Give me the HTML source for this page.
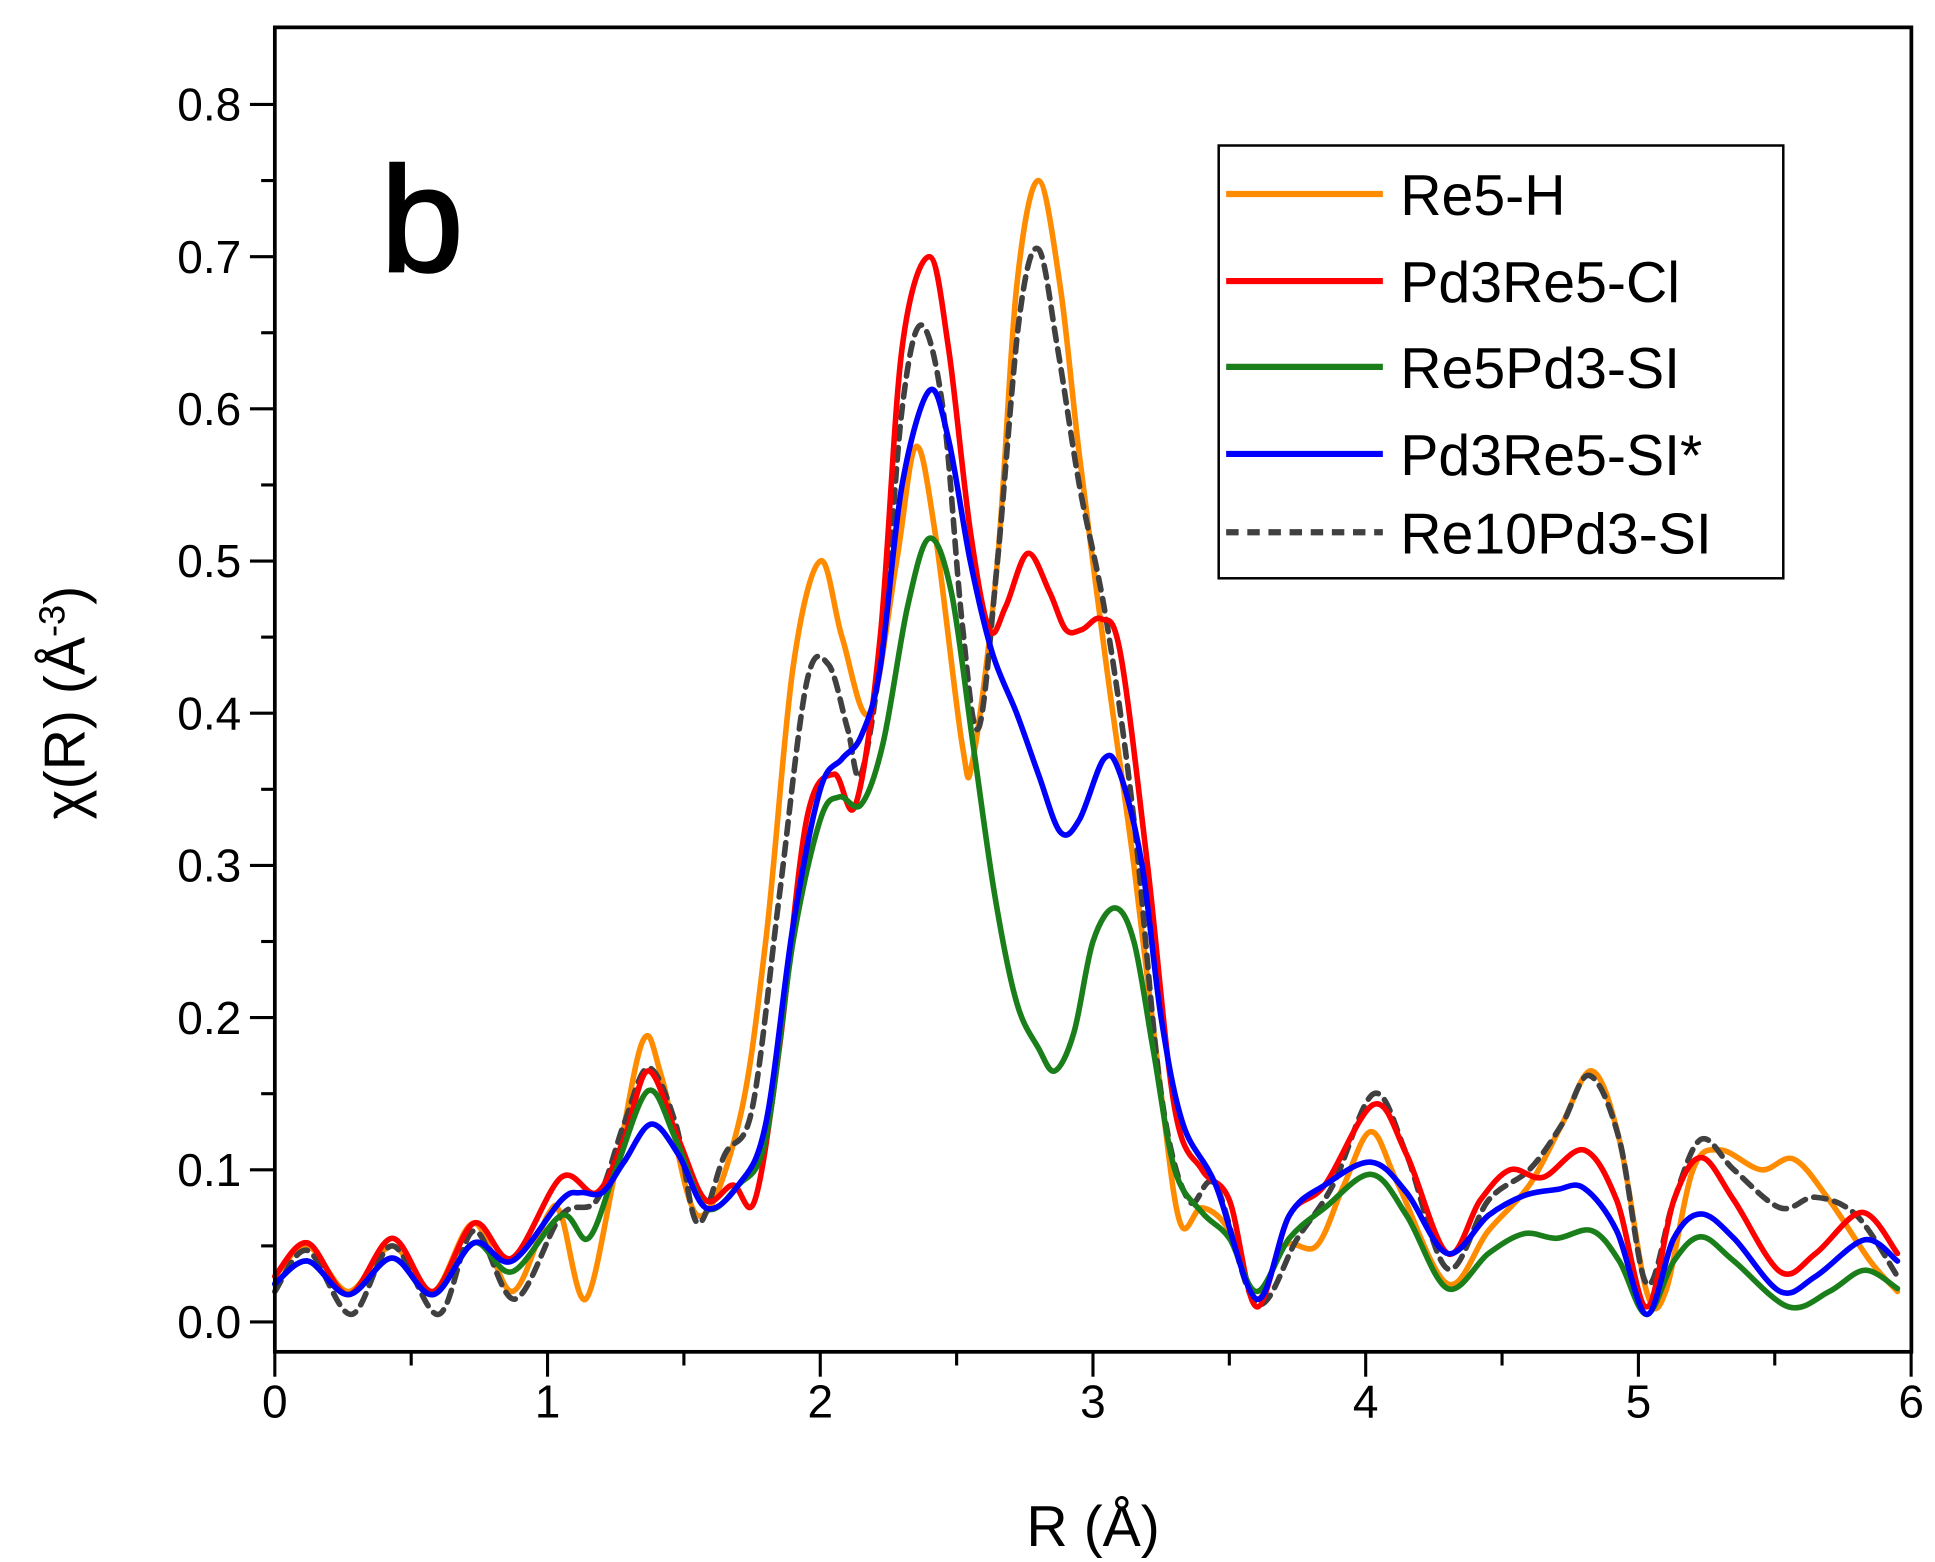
<!DOCTYPE html>
<html><head><meta charset="utf-8"><style>
html,body{margin:0;padding:0;background:#fff}
svg{display:block}
text{font-family:"Liberation Sans",Arial,sans-serif;fill:#000}
</style></head><body>
<svg id="s" width="1935" height="1562" viewBox="0 0 1556 1256" preserveAspectRatio="none" xmlns="http://www.w3.org/2000/svg">
<rect x="0" y="0" width="1556" height="1256" fill="#fff"/>
<g id="ticks" stroke="#000" stroke-width="2.5"></g>
<g id="series" fill="none" stroke-linejoin="round" stroke-linecap="round"></g>
<rect x="221" y="22" width="1316" height="1065" fill="none" stroke="#000" stroke-width="3"/>
<g id="labels" font-size="37"></g>
<text x="879" y="1243" font-size="46" text-anchor="middle">R (Å)</text>
<text transform="translate(68,565) rotate(-90)" font-size="46" text-anchor="middle">χ(R) (Å<tspan dy="-16" font-size="29">-3</tspan><tspan dy="16">)</tspan></text>
<text x="306" y="218" font-size="120" stroke="#000" stroke-width="2">b</text>
<rect x="980" y="117" width="454" height="348" fill="#fff" stroke="#000" stroke-width="2"/>
<g font-size="46">
<line x1="986" y1="156" x2="1112" y2="156" stroke="#ff8c00" stroke-width="5"/><text x="1126" y="173">Re5-H</text>
<line x1="986" y1="226" x2="1112" y2="226" stroke="#ff0000" stroke-width="5"/><text x="1126" y="243">Pd3Re5-Cl</text>
<line x1="986" y1="295" x2="1112" y2="295" stroke="#1a7f1a" stroke-width="5"/><text x="1126" y="312">Re5Pd3-SI</text>
<line x1="986" y1="365" x2="1112" y2="365" stroke="#0000ff" stroke-width="5"/><text x="1126" y="382">Pd3Re5-SI*</text>
<line x1="986" y1="428" x2="1112" y2="428" stroke="#404040" stroke-width="5" stroke-dasharray="10,7"/><text x="1126" y="445">Re10Pd3-SI</text>
</g>
</svg>
<script>
const X=r=>221+r*219.3, Y=v=>1063-v*1223.75;
const NS="http://www.w3.org/2000/svg";
const tk=document.getElementById('ticks'), lb=document.getElementById('labels');
function el(p,t,a,txt){const e=document.createElementNS(NS,t);for(const k in a)e.setAttribute(k,a[k]);if(txt)e.textContent=txt;p.appendChild(e);return e;}
for(let i=0;i<=16;i++){const v=i*0.05,y=Y(v);const maj=i%2==0;el(tk,'line',{x1:221-(maj?20:11),y1:y,x2:221,y2:y});
 if(maj)el(lb,'text',{x:194,y:y+13,'text-anchor':'end'},(v).toFixed(1));}
for(let i=0;i<=12;i++){const r=i*0.5,x=X(r);const maj=i%2==0;el(tk,'line',{x1:x,y1:1087,x2:x,y2:1087+(maj?20:11)});
 if(maj)el(lb,'text',{x:x,y:1140,'text-anchor':'middle'},String(r));}
const D={
o:[[0,0.03],[0.12,0.05],[0.27,0.02],[0.43,0.05],[0.58,0.02],[0.73,0.065],[0.87,0.02],[1.0,0.07],[1.05,0.07],[1.14,0.015],[1.25,0.1],[1.35,0.185],[1.42,0.16],[1.55,0.07],[1.7,0.13],[1.8,0.25],[1.9,0.43],[2.0,0.5],[2.08,0.45],[2.18,0.4],[2.28,0.5],[2.35,0.575],[2.42,0.52],[2.52,0.38],[2.56,0.37],[2.65,0.5],[2.72,0.68],[2.8,0.75],[2.88,0.68],[2.95,0.57],[3.05,0.43],[3.15,0.3],[3.25,0.15],[3.32,0.065],[3.4,0.075],[3.5,0.06],[3.6,0.015],[3.7,0.05],[3.82,0.05],[3.92,0.09],[4.02,0.125],[4.12,0.09],[4.3,0.025],[4.45,0.06],[4.6,0.09],[4.72,0.13],[4.83,0.165],[4.93,0.12],[5.03,0.02],[5.1,0.02],[5.2,0.1],[5.3,0.113],[5.45,0.1],[5.57,0.107],[5.7,0.08],[5.85,0.04],[5.95,0.02]],
r:[[0,0.03],[0.12,0.052],[0.27,0.018],[0.43,0.055],[0.58,0.02],[0.73,0.065],[0.87,0.042],[1.05,0.095],[1.18,0.085],[1.28,0.12],[1.37,0.165],[1.48,0.12],[1.58,0.08],[1.68,0.09],[1.76,0.08],[1.85,0.18],[1.95,0.33],[2.05,0.36],[2.13,0.34],[2.22,0.45],[2.3,0.64],[2.4,0.7],[2.47,0.64],[2.55,0.52],[2.62,0.455],[2.68,0.47],[2.76,0.505],[2.84,0.48],[2.9,0.455],[2.96,0.455],[3.03,0.462],[3.1,0.44],[3.2,0.3],[3.3,0.14],[3.4,0.1],[3.5,0.08],[3.6,0.01],[3.72,0.07],[3.85,0.09],[4.03,0.143],[4.15,0.11],[4.3,0.045],[4.42,0.08],[4.53,0.1],[4.65,0.095],[4.8,0.113],[4.92,0.08],[5.03,0.01],[5.13,0.08],[5.23,0.108],[5.35,0.08],[5.52,0.033],[5.65,0.045],[5.82,0.072],[5.95,0.045]],
g:[[0,0.025],[0.12,0.04],[0.27,0.018],[0.43,0.042],[0.58,0.018],[0.73,0.052],[0.87,0.033],[1.05,0.07],[1.15,0.055],[1.25,0.1],[1.37,0.152],[1.47,0.12],[1.58,0.075],[1.7,0.09],[1.8,0.12],[1.9,0.25],[2.0,0.33],[2.07,0.345],[2.15,0.34],[2.23,0.38],[2.32,0.47],[2.4,0.515],[2.48,0.48],[2.56,0.38],[2.64,0.28],[2.72,0.21],[2.8,0.18],[2.86,0.165],[2.93,0.19],[3.0,0.25],[3.08,0.272],[3.15,0.25],[3.22,0.18],[3.3,0.1],[3.4,0.072],[3.5,0.055],[3.6,0.02],[3.72,0.055],[3.85,0.075],[4.02,0.097],[4.15,0.07],[4.3,0.022],[4.45,0.045],[4.58,0.058],[4.7,0.055],[4.83,0.06],[4.93,0.04],[5.03,0.005],[5.13,0.04],[5.23,0.056],[5.35,0.04],[5.55,0.01],[5.7,0.02],[5.83,0.034],[5.95,0.022]],
b:[[0,0.025],[0.12,0.04],[0.27,0.018],[0.43,0.042],[0.58,0.018],[0.73,0.052],[0.87,0.04],[1.05,0.08],[1.12,0.085],[1.2,0.085],[1.28,0.105],[1.38,0.13],[1.48,0.11],[1.58,0.075],[1.7,0.09],[1.8,0.13],[1.9,0.26],[2.0,0.35],[2.08,0.37],[2.15,0.385],[2.22,0.43],[2.3,0.55],[2.4,0.612],[2.47,0.58],[2.55,0.5],[2.63,0.44],[2.72,0.4],[2.8,0.36],[2.88,0.322],[2.95,0.33],[3.04,0.37],[3.1,0.36],[3.18,0.3],[3.25,0.2],[3.33,0.13],[3.45,0.09],[3.6,0.015],[3.72,0.07],[3.85,0.09],[4.02,0.105],[4.15,0.085],[4.3,0.045],[4.45,0.07],[4.58,0.083],[4.7,0.087],[4.8,0.088],[4.92,0.06],[5.03,0.005],[5.13,0.055],[5.23,0.071],[5.35,0.055],[5.52,0.02],[5.65,0.03],[5.83,0.054],[5.95,0.04]],
d:[[0,0.02],[0.12,0.047],[0.28,0.005],[0.43,0.05],[0.6,0.005],[0.73,0.06],[0.88,0.015],[1.05,0.07],[1.18,0.08],[1.28,0.13],[1.37,0.167],[1.47,0.13],[1.55,0.065],[1.65,0.11],[1.75,0.14],[1.85,0.28],[1.95,0.42],[2.03,0.432],[2.1,0.39],[2.15,0.36],[2.23,0.45],[2.3,0.6],[2.37,0.655],[2.45,0.6],[2.52,0.46],[2.58,0.39],[2.65,0.5],[2.73,0.66],[2.8,0.705],[2.87,0.64],[2.95,0.55],[3.05,0.46],[3.15,0.33],[3.25,0.15],[3.35,0.08],[3.45,0.09],[3.6,0.012],[3.75,0.055],[3.88,0.09],[4.03,0.15],[4.15,0.11],[4.3,0.035],[4.45,0.08],[4.6,0.1],[4.72,0.13],[4.82,0.162],[4.93,0.12],[5.03,0.025],[5.13,0.08],[5.23,0.12],[5.35,0.1],[5.52,0.075],[5.65,0.082],[5.8,0.07],[5.95,0.03]]};
function path(pts){const p=pts.map(a=>[X(a[0]),Y(a[1])]);let s='M'+p[0][0].toFixed(1)+','+p[0][1].toFixed(1);
for(let i=0;i<p.length-1;i++){const p0=p[Math.max(0,i-1)],p1=p[i],p2=p[i+1],p3=p[Math.min(p.length-1,i+2)];
const c1=[p1[0]+(p2[0]-p0[0])/6,p1[1]+(p2[1]-p0[1])/6],c2=[p2[0]-(p3[0]-p1[0])/6,p2[1]-(p3[1]-p1[1])/6];
s+='C'+c1.map(v=>v.toFixed(1))+' '+c2.map(v=>v.toFixed(1))+' '+p2.map(v=>v.toFixed(1));}return s;}
const sg=document.getElementById('series');
el(sg,'path',{d:path(D.o),stroke:'#ff8c00','stroke-width':4.5});
el(sg,'path',{d:path(D.d),stroke:'#404040','stroke-width':4.5,'stroke-dasharray':'10,7'});
el(sg,'path',{d:path(D.r),stroke:'#ff0000','stroke-width':4.5});
el(sg,'path',{d:path(D.g),stroke:'#1a7f1a','stroke-width':4.5});
el(sg,'path',{d:path(D.b),stroke:'#0000ff','stroke-width':4.5});
</script>
</body></html>
